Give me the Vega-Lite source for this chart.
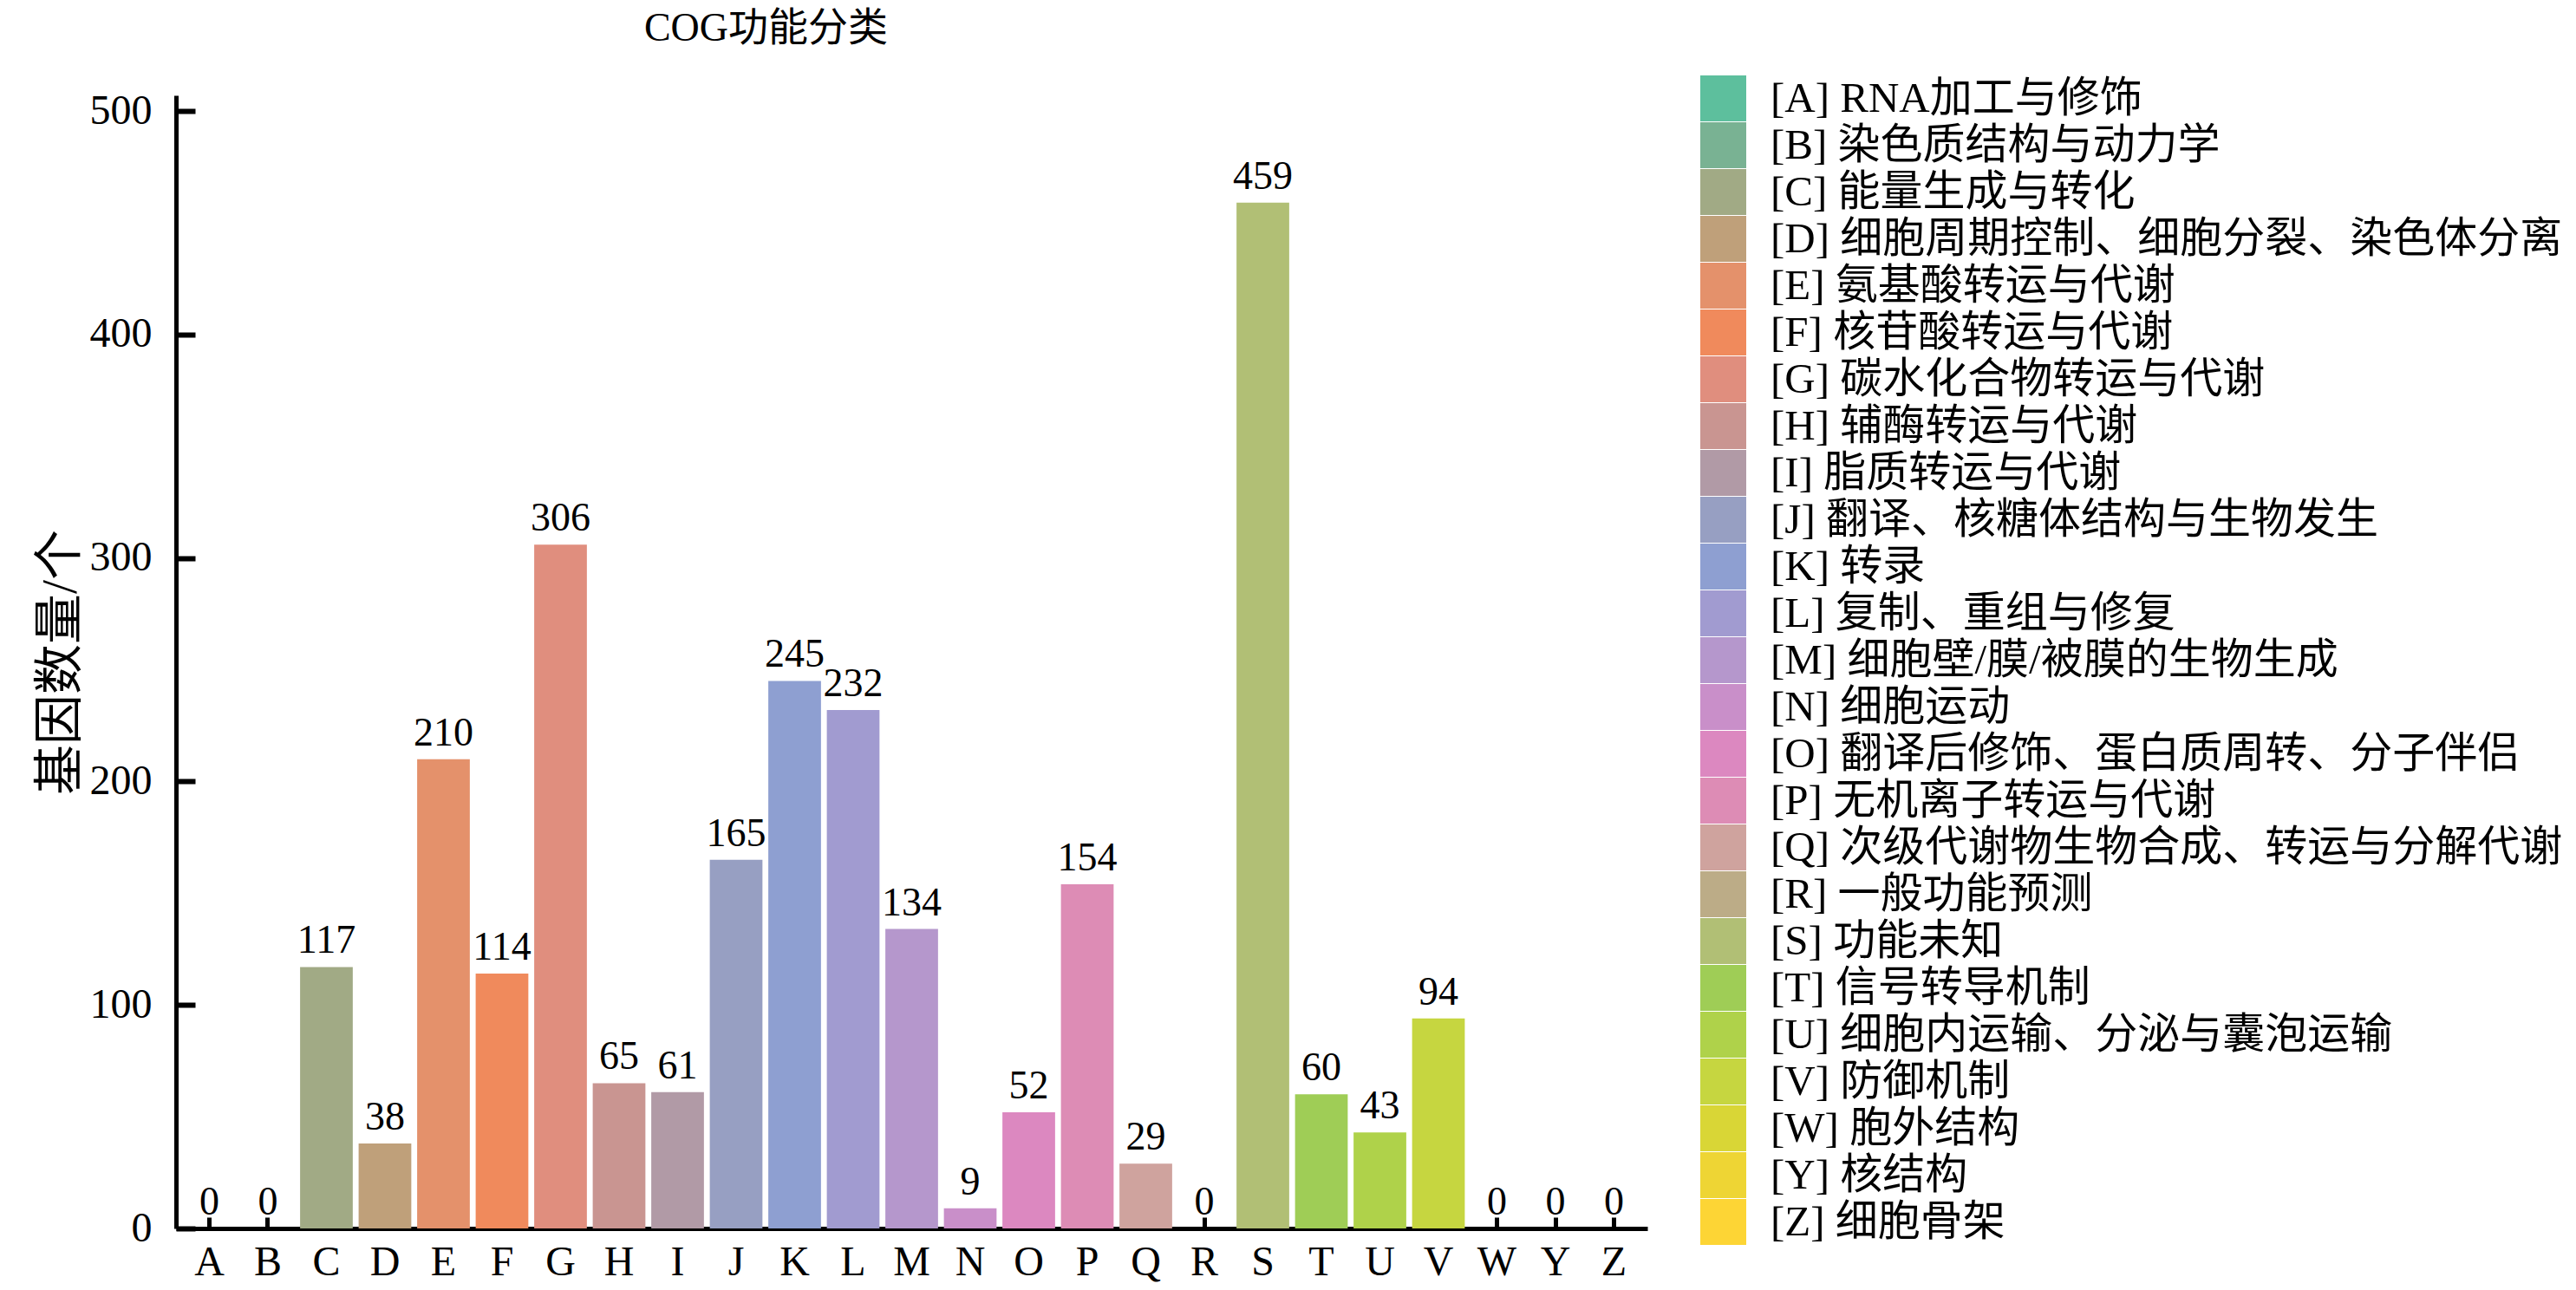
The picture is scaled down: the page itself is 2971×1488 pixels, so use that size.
{
  "$schema": "https://vega.github.io/schema/vega-lite/v6.json",
  "autosize": "none",
  "width": 1697,
  "height": 1307,
  "padding": {"left": 203, "top": 110, "right": 1071, "bottom": 71},
  "background": "white",
  "config": {
    "view": {"stroke": null},
    "font": "Liberation Serif, Noto Sans CJK SC"
  },
  "title": {
    "text": "COG功能分类",
    "fontSize": 46,
    "fontWeight": "normal",
    "font": "Liberation Serif, Noto Sans CJK SC",
    "color": "black",
    "anchor": "middle",
    "dx": -168,
    "offset": 30
  },
  "data": {
    "values": [
      {"cat": "A", "label": "[A] RNA加工与修饰", "count": 0},
      {"cat": "B", "label": "[B] 染色质结构与动力学", "count": 0},
      {"cat": "C", "label": "[C] 能量生成与转化", "count": 117},
      {"cat": "D", "label": "[D] 细胞周期控制、细胞分裂、染色体分离", "count": 38},
      {"cat": "E", "label": "[E] 氨基酸转运与代谢", "count": 210},
      {"cat": "F", "label": "[F] 核苷酸转运与代谢", "count": 114},
      {"cat": "G", "label": "[G] 碳水化合物转运与代谢", "count": 306},
      {"cat": "H", "label": "[H] 辅酶转运与代谢", "count": 65},
      {"cat": "I", "label": "[I] 脂质转运与代谢", "count": 61},
      {"cat": "J", "label": "[J] 翻译、核糖体结构与生物发生", "count": 165},
      {"cat": "K", "label": "[K] 转录", "count": 245},
      {"cat": "L", "label": "[L] 复制、重组与修复", "count": 232},
      {"cat": "M", "label": "[M] 细胞壁/膜/被膜的生物生成", "count": 134},
      {"cat": "N", "label": "[N] 细胞运动", "count": 9},
      {"cat": "O", "label": "[O] 翻译后修饰、蛋白质周转、分子伴侣", "count": 52},
      {"cat": "P", "label": "[P] 无机离子转运与代谢", "count": 154},
      {"cat": "Q", "label": "[Q] 次级代谢物生物合成、转运与分解代谢", "count": 29},
      {"cat": "R", "label": "[R] 一般功能预测", "count": 0},
      {"cat": "S", "label": "[S] 功能未知", "count": 459},
      {"cat": "T", "label": "[T] 信号转导机制", "count": 60},
      {"cat": "U", "label": "[U] 细胞内运输、分泌与囊泡运输", "count": 43},
      {"cat": "V", "label": "[V] 防御机制", "count": 94},
      {"cat": "W", "label": "[W] 胞外结构", "count": 0},
      {"cat": "Y", "label": "[Y] 核结构", "count": 0},
      {"cat": "Z", "label": "[Z] 细胞骨架", "count": 0}
    ]
  },
  "encoding": {
    "x": {
      "field": "cat",
      "type": "nominal",
      "sort": null,
      "scale": {"paddingInner": 0.1, "paddingOuter": 0.12},
      "axis": {
        "title": null,
        "labelAngle": 0,
        "labelFontSize": 48,
        "labelColor": "black",
        "labelPadding": 28,
        "tickSize": -13,
        "tickWidth": 5,
        "tickColor": "black",
        "domainColor": "black",
        "domainWidth": 5,
        "grid": false
      }
    },
    "y": {
      "field": "count",
      "type": "quantitative",
      "scale": {"domain": [0, 507], "nice": false},
      "axis": {
        "title": "基因数量/个",
        "titleFontSize": 58,
        "titleFontWeight": "normal",
        "titleColor": "black",
        "titlePadding": 4,
        "values": [0, 100, 200, 300, 400, 500],
        "labelFontSize": 48,
        "labelColor": "black",
        "labelPadding": 50,
        "tickSize": -22,
        "tickWidth": 6,
        "tickColor": "black",
        "domainColor": "black",
        "domainWidth": 5,
        "grid": false
      }
    }
  },
  "layer": [
    {
      "mark": {"type": "bar"},
      "encoding": {
        "color": {
          "field": "label",
          "type": "nominal",
          "scale": {
            "domain": [
              "[A] RNA加工与修饰", "[B] 染色质结构与动力学", "[C] 能量生成与转化",
              "[D] 细胞周期控制、细胞分裂、染色体分离", "[E] 氨基酸转运与代谢", "[F] 核苷酸转运与代谢",
              "[G] 碳水化合物转运与代谢", "[H] 辅酶转运与代谢", "[I] 脂质转运与代谢",
              "[J] 翻译、核糖体结构与生物发生", "[K] 转录", "[L] 复制、重组与修复",
              "[M] 细胞壁/膜/被膜的生物生成", "[N] 细胞运动", "[O] 翻译后修饰、蛋白质周转、分子伴侣",
              "[P] 无机离子转运与代谢", "[Q] 次级代谢物生物合成、转运与分解代谢", "[R] 一般功能预测",
              "[S] 功能未知", "[T] 信号转导机制", "[U] 细胞内运输、分泌与囊泡运输",
              "[V] 防御机制", "[W] 胞外结构", "[Y] 核结构", "[Z] 细胞骨架"
            ],
            "range": [
              "#5dbf9d", "#79b293", "#a1aa85", "#bfa07a", "#e4916b",
              "#f08a5c", "#e08e7e", "#c99591", "#b19aa6", "#979fc2",
              "#8e9fd1", "#a19bd0", "#b597cc", "#c98fc9", "#dc88c0",
              "#dd8cb5", "#cfa39e", "#bcac87", "#b1bf75", "#9fcd56",
              "#afd24a", "#c6d640", "#d9d636", "#eed534", "#fdd535"
            ]
          },
          "legend": {
            "title": null,
            "orient": "none",
            "legendX": 1758,
            "legendY": -23,
            "symbolType": "square",
            "symbolSize": 2809,
            "symbolStrokeWidth": 0,
            "symbolOpacity": 1,
            "labelFontSize": 49,
            "labelColor": "black",
            "labelOffset": 28,
            "labelLimit": 1200,
            "rowPadding": 1
          }
        }
      }
    },
    {
      "mark": {"type": "text", "baseline": "bottom", "dy": -6, "fontSize": 46, "color": "black"},
      "encoding": {
        "text": {"field": "count", "type": "quantitative"}
      }
    }
  ]
}
